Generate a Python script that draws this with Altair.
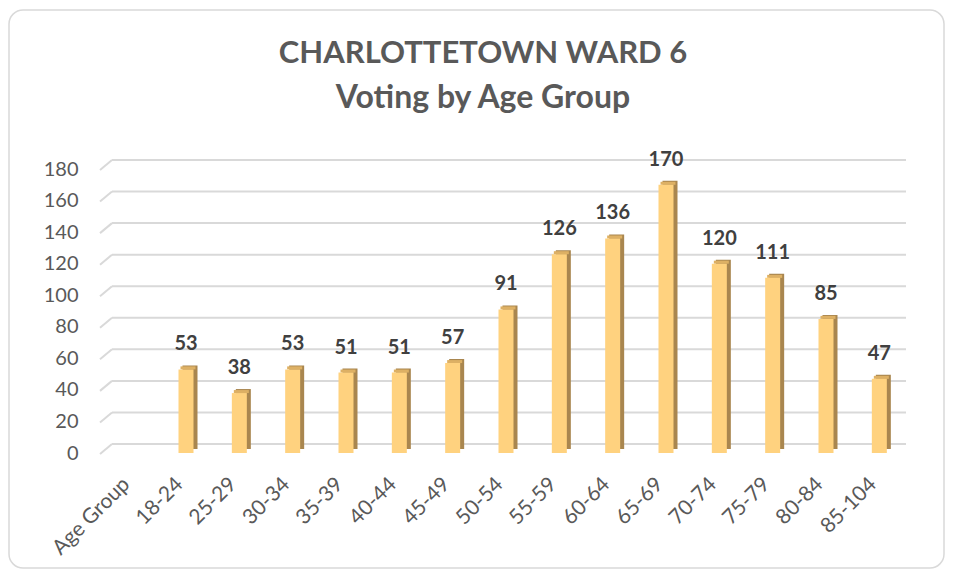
import altair as alt
import pandas as pd

categories = ["Age Group", "18-24", "25-29", "30-34", "35-39", "40-44", "45-49",
              "50-54", "55-59", "60-64", "65-69", "70-74", "75-79", "80-84", "85-104"]
votes = [None, 53, 38, 53, 51, 51, 57, 91, 126, 136, 170, 120, 111, 85, 47]
y_ticks = [0, 20, 40, 60, 80, 100, 120, 140, 160, 180]
title_lines = ["CHARLOTTETOWN WARD 6", "Voting by Age Group"]

df = pd.DataFrame({"cat": categories, "votes": votes})
df["base"] = 0
bars_df = df.dropna(subset=["votes"])
ticks_df = pd.DataFrame({"t": y_ticks})

FONT = "Lato"
W, H = 800, 284

x_axis = alt.Axis(title=None, labelAngle=-45, labelAlign="right", labelBaseline="middle",
                  labelFontSize=21, labelColor="#595959", labelFont=FONT,
                  labelPadding=28, labelOffset=-6, ticks=False, domain=False, grid=False,
                  zindex=1)
y_axis = alt.Axis(title=None, values=y_ticks, labelFontSize=20, labelColor="#595959",
                  labelFont=FONT, labelPadding=28, ticks=False, domain=False, grid=False,
                  zindex=1)

xs = alt.X("cat:N", sort=categories,
           scale=alt.Scale(domain=categories, paddingInner=0, paddingOuter=0), axis=x_axis)
yscale = alt.Scale(domain=[0, 180], nice=False)
ys = alt.Y("votes:Q", scale=yscale, axis=y_axis)

frame = alt.Chart(pd.DataFrame({"a": [0]})).mark_rect(
    fill="white", fillOpacity=0, stroke="#D9D9D9", strokeWidth=1.5, cornerRadius=14
).encode(x=alt.value(-97), x2=alt.value(838), y=alt.value(-159), y2=alt.value(399))

title1 = alt.Chart(pd.DataFrame({"s": [title_lines[0]]})).mark_text(
    font=FONT, fontSize=31, fontWeight="bold", color="#595959", baseline="alphabetic"
).encode(text="s:N", x=alt.value(377), y=alt.value(-106))
title2 = alt.Chart(pd.DataFrame({"s": [title_lines[1]]})).mark_text(
    font=FONT, fontSize=32, fontWeight="bold", color="#595959", baseline="alphabetic"
).encode(text="s:N", x=alt.value(377), y=alt.value(-61))

grid_h = alt.Chart(ticks_df).mark_rule(color="#D9D9D9", strokeWidth=2, yOffset=-9).encode(
    y=alt.Y("t:Q", scale=yscale, axis=y_axis), x=alt.value(6), x2=alt.value(W))
grid_d = alt.Chart(ticks_df).mark_rule(color="#D9D9D9", strokeWidth=2, yOffset=1, y2Offset=-9).encode(
    y=alt.Y("t:Q", scale=yscale, axis=y_axis), y2="t:Q", x=alt.value(-6), x2=alt.value(6))

side = alt.Chart(bars_df).mark_bar(size=15, xOffset=4, yOffset=-4, y2Offset=-4,
                                   color="#A9864F").encode(x=xs, y=ys, y2="base:Q")
top = alt.Chart(bars_df).mark_bar(size=15, xOffset=2, yOffset=-3, y2Offset=0,
                                  color="#DDB064").encode(x=xs, y=ys, y2="votes:Q")
front = alt.Chart(bars_df).mark_bar(size=15, color="#FFD27F").encode(x=xs, y=ys, y2="base:Q")
labels = alt.Chart(bars_df).mark_text(font=FONT, fontSize=20, fontWeight="bold", color="#404040",
                                      baseline="alphabetic", dy=-19).encode(
    x=xs, y=ys, text=alt.Text("votes:Q", format="d"))

chart = alt.layer(frame, grid_h, grid_d, side, top, front, labels, title1, title2).properties(
    width=W, height=H,
    autosize="none",
    background="white",
    padding={"left": 98, "top": 161, "right": 40, "bottom": 117},
).configure_view(stroke="transparent", strokeWidth=0)

chart.save("out.html", embed_options={"renderer": "svg", "actions": False})
